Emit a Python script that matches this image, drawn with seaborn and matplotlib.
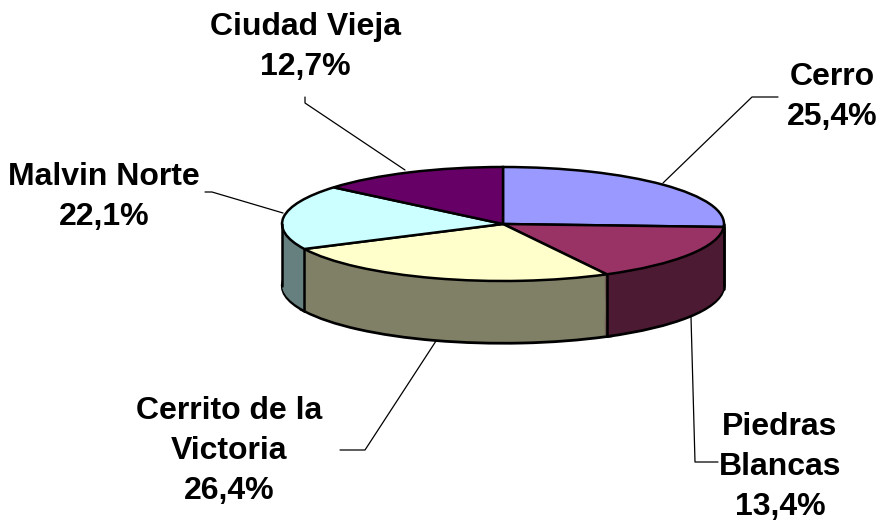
import numpy as np
import matplotlib
matplotlib.use('Agg')
import matplotlib.pyplot as plt
import seaborn as sns

# --- Data ---
names = ['Cerro', 'Piedras\nBlancas', 'Cerrito de la\nVictoria', 'Malvin Norte', 'Ciudad Vieja']
percent_labels = ['25,4%', '13,4%', '26,4%', '22,1%', '12,7%']
# slice sizes in degrees as measured on the picture (the 3D view does not follow the labels exactly)
slice_degrees = [93, 59, 92, 66, 50]

top_colors = ['#9999ff', '#993366', '#ffffcc', '#ccffff', '#660066']
side_colors = ['#4d4d80', '#4d1a33', '#808066', '#668080', '#330033']

label_pos = [(832, 97), (780, 467), (229, 451), (104, 197), (305, 47)]
leader_lines = [
    [(663, 183), (752, 97), (778, 97)],
    [(691, 317), (695, 462), (718, 462)],
    [(436, 341), (365, 450), (340, 450)],
    [(283, 213), (212, 192), (205, 192)],
    [(405, 170), (305, 103), (305, 97)],
]

W, H = 884, 526
CX, CY = 503, 224      # pie centre, pixels
RX, RY = 221, 57       # pie radii, pixels
DEPTH = 62             # wall height, pixels

sns.set_theme(style='white')
plt.rcParams['font.family'] = ['Liberation Sans', 'DejaVu Sans']

fig = plt.figure(figsize=(W / 100, H / 100), dpi=100)

# pie axes: one data unit is RX px across and RY px down
ax = fig.add_axes([0, 0, 1, 1])
depth_units = DEPTH / RY

# walls: stack of pies from the bottom up, then the top face
ax.pie(slice_degrees, colors=side_colors, startangle=90, counterclock=False, radius=0.997,
       center=(0, -depth_units), wedgeprops=dict(edgecolor='black', linewidth=2.6))
for off in np.linspace(depth_units - 0.02, 0.02, DEPTH):
    ax.pie(slice_degrees, colors=side_colors, startangle=90, counterclock=False,
           center=(0, -off), wedgeprops=dict(linewidth=0))

# vertical edges of the wall at the front slice borders and the two sides
bounds = 90 - np.cumsum(slice_degrees)
front = [np.radians(a) for a in bounds if np.sin(np.radians(a)) < 0.6]
edge_x = [np.cos(a) for a in front] + [-1, 1]
edge_top = [np.sin(a) for a in front] + [0, 0]
for x0, y0 in zip(edge_x, edge_top):
    ax.plot([x0, x0], [y0, y0 - depth_units], color='black', lw=1.8, solid_capstyle='round')

ax.pie(slice_degrees, colors=top_colors, startangle=90, counterclock=False,
       wedgeprops=dict(edgecolor='black', linewidth=1.8))

ax.set_aspect('auto')
ax.set_xlim(-CX / RX, (W - CX) / RX)
ax.set_ylim((CY - H) / RY, CY / RY)
ax.axis('off')

# overlay in pixel coordinates for labels and leader lines
lab = fig.add_axes([0, 0, 1, 1], facecolor='none')
lab.set_xlim(0, W)
lab.set_ylim(H, 0)
lab.axis('off')

for pts in leader_lines:
    xs, ys = zip(*pts)
    lab.plot(xs, ys, color='black', lw=0.9)

for name, pct, (x, y) in zip(names, percent_labels, label_pos):
    lab.text(x, y, name + '\n' + pct, ha='center', va='center', fontsize=23,
             fontweight='bold', color='black', linespacing=1.45)

fig.savefig('out.png', dpi=100, facecolor='white')
